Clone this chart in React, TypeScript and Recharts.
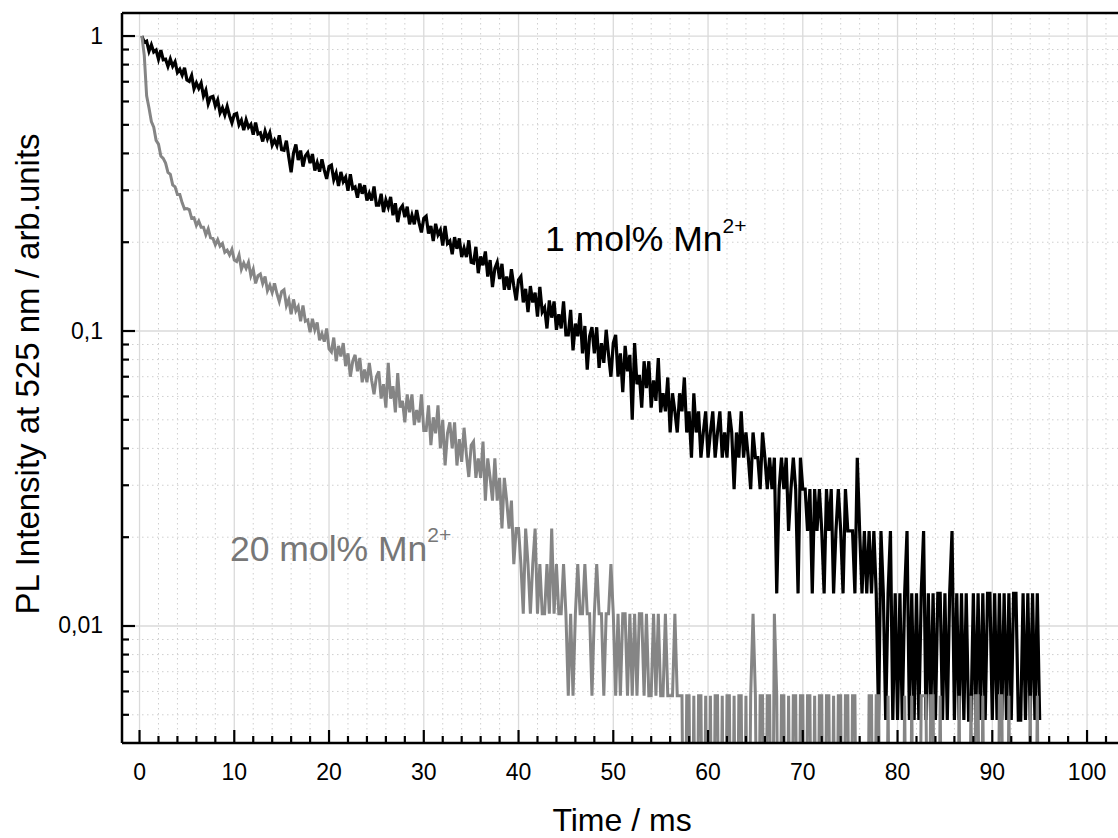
import React from 'react';
import { LineChart, Line, XAxis, YAxis, CartesianGrid, Customized, ReferenceLine } from 'recharts';

// Time axis (ms), 0.25 ms sampling
const time = [
  0.25, 0.5, 0.75, 1, 1.25, 1.5, 1.75, 2, 2.25, 2.5, 2.75, 3, 3.25, 3.5, 3.75, 4, 4.25, 4.5, 4.75, 5,
  5.25, 5.5, 5.75, 6, 6.25, 6.5, 6.75, 7, 7.25, 7.5, 7.75, 8, 8.25, 8.5, 8.75, 9, 9.25, 9.5, 9.75, 10,
  10.25, 10.5, 10.75, 11, 11.25, 11.5, 11.75, 12, 12.25, 12.5, 12.75, 13, 13.25, 13.5, 13.75, 14, 14.25, 14.5, 14.75, 15,
  15.25, 15.5, 15.75, 16, 16.25, 16.5, 16.75, 17, 17.25, 17.5, 17.75, 18, 18.25, 18.5, 18.75, 19, 19.25, 19.5, 19.75, 20,
  20.25, 20.5, 20.75, 21, 21.25, 21.5, 21.75, 22, 22.25, 22.5, 22.75, 23, 23.25, 23.5, 23.75, 24, 24.25, 24.5, 24.75, 25,
  25.25, 25.5, 25.75, 26, 26.25, 26.5, 26.75, 27, 27.25, 27.5, 27.75, 28, 28.25, 28.5, 28.75, 29, 29.25, 29.5, 29.75, 30,
  30.25, 30.5, 30.75, 31, 31.25, 31.5, 31.75, 32, 32.25, 32.5, 32.75, 33, 33.25, 33.5, 33.75, 34, 34.25, 34.5, 34.75, 35,
  35.25, 35.5, 35.75, 36, 36.25, 36.5, 36.75, 37, 37.25, 37.5, 37.75, 38, 38.25, 38.5, 38.75, 39, 39.25, 39.5, 39.75, 40,
  40.25, 40.5, 40.75, 41, 41.25, 41.5, 41.75, 42, 42.25, 42.5, 42.75, 43, 43.25, 43.5, 43.75, 44, 44.25, 44.5, 44.75, 45,
  45.25, 45.5, 45.75, 46, 46.25, 46.5, 46.75, 47, 47.25, 47.5, 47.75, 48, 48.25, 48.5, 48.75, 49, 49.25, 49.5, 49.75, 50,
  50.25, 50.5, 50.75, 51, 51.25, 51.5, 51.75, 52, 52.25, 52.5, 52.75, 53, 53.25, 53.5, 53.75, 54, 54.25, 54.5, 54.75, 55,
  55.25, 55.5, 55.75, 56, 56.25, 56.5, 56.75, 57, 57.25, 57.5, 57.75, 58, 58.25, 58.5, 58.75, 59, 59.25, 59.5, 59.75, 60,
  60.25, 60.5, 60.75, 61, 61.25, 61.5, 61.75, 62, 62.25, 62.5, 62.75, 63, 63.25, 63.5, 63.75, 64, 64.25, 64.5, 64.75, 65,
  65.25, 65.5, 65.75, 66, 66.25, 66.5, 66.75, 67, 67.25, 67.5, 67.75, 68, 68.25, 68.5, 68.75, 69, 69.25, 69.5, 69.75, 70,
  70.25, 70.5, 70.75, 71, 71.25, 71.5, 71.75, 72, 72.25, 72.5, 72.75, 73, 73.25, 73.5, 73.75, 74, 74.25, 74.5, 74.75, 75,
  75.25, 75.5, 75.75, 76, 76.25, 76.5, 76.75, 77, 77.25, 77.5, 77.75, 78, 78.25, 78.5, 78.75, 79, 79.25, 79.5, 79.75, 80,
  80.25, 80.5, 80.75, 81, 81.25, 81.5, 81.75, 82, 82.25, 82.5, 82.75, 83, 83.25, 83.5, 83.75, 84, 84.25, 84.5, 84.75, 85,
  85.25, 85.5, 85.75, 86, 86.25, 86.5, 86.75, 87, 87.25, 87.5, 87.75, 88, 88.25, 88.5, 88.75, 89, 89.25, 89.5, 89.75, 90,
  90.25, 90.5, 90.75, 91, 91.25, 91.5, 91.75, 92, 92.25, 92.5, 92.75, 93, 93.25, 93.5, 93.75, 94, 94.25, 94.5, 94.75, 95,
];

// 1 mol% Mn2+ (black)
const mn1 = [
  1.0, 0.952, 0.961, 0.888, 0.934, 0.883, 0.896, 0.835, 0.896, 0.831, 0.835, 0.789, 0.836, 0.79, 0.818, 0.752, 0.771, 0.737, 0.781, 0.71,
  0.702, 0.735, 0.663, 0.694, 0.665, 0.693, 0.626, 0.655, 0.589, 0.62, 0.624, 0.579, 0.607, 0.549, 0.571, 0.54, 0.577, 0.537, 0.508, 0.542,
  0.546, 0.5, 0.518, 0.48, 0.52, 0.49, 0.502, 0.463, 0.509, 0.466, 0.47, 0.439, 0.476, 0.448, 0.47, 0.427, 0.444, 0.425, 0.461, 0.412,
  0.41, 0.442, 0.389, 0.345, 0.401, 0.429, 0.38, 0.409, 0.361, 0.392, 0.402, 0.371, 0.398, 0.35, 0.372, 0.347, 0.382, 0.351, 0.328, 0.361,
  0.365, 0.326, 0.343, 0.31, 0.346, 0.321, 0.332, 0.299, 0.34, 0.304, 0.308, 0.283, 0.316, 0.292, 0.312, 0.277, 0.293, 0.277, 0.309, 0.267,
  0.267, 0.292, 0.253, 0.278, 0.263, 0.285, 0.247, 0.271, 0.234, 0.259, 0.266, 0.243, 0.264, 0.23, 0.247, 0.23, 0.257, 0.233, 0.216, 0.241,
  0.245, 0.214, 0.227, 0.202, 0.231, 0.212, 0.22, 0.195, 0.227, 0.198, 0.202, 0.182, 0.208, 0.19, 0.206, 0.178, 0.191, 0.178, 0.203, 0.171,
  0.17, 0.193, 0.157, 0.179, 0.167, 0.186, 0.153, 0.174, 0.141, 0.163, 0.171, 0.15, 0.169, 0.138, 0.153, 0.138, 0.162, 0.142, 0.127, 0.149,
  0.153, 0.125, 0.139, 0.116, 0.142, 0.125, 0.135, 0.112, 0.141, 0.116, 0.12, 0.102, 0.127, 0.111, 0.126, 0.101, 0.114, 0.102, 0.126, 0.097,
  0.097, 0.118, 0.086, 0.106, 0.096, 0.115, 0.084, 0.104, 0.074, 0.096, 0.103, 0.084, 0.103, 0.075, 0.091, 0.078, 0.101, 0.083, 0.07, 0.091,
  0.097, 0.07, 0.084, 0.062, 0.089, 0.073, 0.083, 0.05, 0.091, 0.066, 0.071, 0.055, 0.079, 0.064, 0.079, 0.055, 0.068, 0.058, 0.081, 0.053,
  0.0615, 0.0534, 0.0696, 0.0453, 0.0615, 0.0534, 0.0453, 0.0615, 0.0534, 0.0696, 0.0453, 0.0534, 0.0372, 0.0615, 0.0453, 0.0534, 0.0372, 0.0453, 0.0534, 0.0372,
  0.0453, 0.0534, 0.0372, 0.0453, 0.0534, 0.0372, 0.0453, 0.0372, 0.0534, 0.0453, 0.0291, 0.0453, 0.0372, 0.0534, 0.0372, 0.0453, 0.0372, 0.0291, 0.0453, 0.0372,
  0.0372, 0.0291, 0.0453, 0.0372, 0.0291, 0.0372, 0.0291, 0.0372, 0.0129, 0.0291, 0.0372, 0.0291, 0.0372, 0.021, 0.0291, 0.0372, 0.0291, 0.0129, 0.0372, 0.0291,
  0.0291, 0.021, 0.0291, 0.0129, 0.0291, 0.021, 0.0291, 0.021, 0.0129, 0.0291, 0.021, 0.0291, 0.0129, 0.021, 0.0291, 0.021, 0.0129, 0.0291, 0.021, 0.021,
  0.021, 0.0129, 0.0372, 0.021, 0.0129, 0.021, 0.0129, 0.021, 0.0129, 0.021, 0.0129, 0.0048, 0.021, 0.0129, 0.0048, 0.0129, 0.021, 0.0048, 0.0129, 0.0048,
  0.0129, 0.0048, 0.0129, 0.021, 0.0048, 0.0129, 0.0048, 0.0129, 0.0048, 0.0129, 0.021, 0.0048, 0.0129, 0.0048, 0.0129, 0.0048, 0.0129, 0.0129, 0.0048, 0.0129,
  0.0048, 0.0129, 0.021, 0.0048, 0.0129, 0.0048, 0.0129, 0.0048, 0.0129, 0.0048, 0.0048, 0.0129, 0.0048, 0.0129, 0.0048, 0.0129, 0.0048, 0.0129, 0.0129, 0.0048,
  0.0129, 0.0048, 0.0129, 0.0048, 0.0129, 0.0048, 0.0129, 0.0048, 0.0129, 0.0129, 0.0048, 0.0048, 0.0129, 0.0048, 0.0129, 0.0048, 0.0129, 0.0048, 0.0129, 0.0048,
];

// 20 mol% Mn2+ (grey)
const mn20 = [
  1.0, 0.86, 0.627, 0.57, 0.513, 0.491, 0.443, 0.43, 0.392, 0.385, 0.371, 0.345, 0.34, 0.313, 0.308, 0.29, 0.29, 0.272, 0.259, 0.26,
  0.258, 0.241, 0.242, 0.228, 0.236, 0.225, 0.225, 0.212, 0.222, 0.207, 0.206, 0.196, 0.204, 0.194, 0.198, 0.185, 0.188, 0.181, 0.189, 0.174,
  0.172, 0.181, 0.162, 0.17, 0.163, 0.171, 0.154, 0.162, 0.145, 0.154, 0.156, 0.145, 0.153, 0.137, 0.143, 0.135, 0.145, 0.134, 0.126, 0.136,
  0.138, 0.122, 0.128, 0.114, 0.128, 0.117, 0.121, 0.108, 0.122, 0.108, 0.109, 0.099, 0.11, 0.101, 0.107, 0.093, 0.098, 0.092, 0.102, 0.087,
  0.085, 0.095, 0.079, 0.089, 0.082, 0.091, 0.076, 0.084, 0.07, 0.079, 0.083, 0.073, 0.081, 0.067, 0.074, 0.067, 0.078, 0.068, 0.061, 0.07,
  0.073, 0.059, 0.066, 0.055, 0.078, 0.059, 0.065, 0.053, 0.072, 0.055, 0.058, 0.049, 0.061, 0.053, 0.061, 0.048, 0.054, 0.049, 0.061, 0.046,
  0.046, 0.056, 0.041, 0.051, 0.045, 0.056, 0.04, 0.05, 0.035, 0.045, 0.049, 0.04, 0.049, 0.035, 0.043, 0.036, 0.047, 0.038, 0.032, 0.041,
  0.0422, 0.0318, 0.037, 0.0318, 0.0422, 0.0266, 0.037, 0.0318, 0.0266, 0.037, 0.0266, 0.0318, 0.0214, 0.0318, 0.0266, 0.0214, 0.0266, 0.0162, 0.0214, 0.0214,
  0.0162, 0.011, 0.0214, 0.0162, 0.011, 0.0162, 0.0214, 0.011, 0.0162, 0.011, 0.011, 0.0162, 0.011, 0.0214, 0.011, 0.0162, 0.011, 0.011, 0.0162, 0.011,
  0.0058, 0.011, 0.0058, 0.011, 0.0162, 0.011, 0.011, 0.0162, 0.011, 0.011, 0.0058, 0.011, 0.0162, 0.011, 0.011, 0.0058, 0.011, 0.011, 0.0162, 0.011,
  0.0058, 0.011, 0.0058, 0.011, 0.011, 0.0058, 0.011, 0.0058, 0.011, 0.0058, 0.011, 0.011, 0.0058, 0.011, 0.0058, 0.0058, 0.011, 0.0058, 0.011, 0.0058,
  0.0058, 0.011, 0.0058, 0.0058, 0.0058, 0.011, 0.0058, 0.0058, 0.0058, 0.0006, 0.0058, 0.0058, 0.0006, 0.0058, 0.0006, 0.0058, 0.0058, 0.0006, 0.0058, 0.0006,
  0.0058, 0.0006, 0.0058, 0.0058, 0.0006, 0.0058, 0.0006, 0.0058, 0.0058, 0.0006, 0.0058, 0.0006, 0.0058, 0.0058, 0.0006, 0.0058, 0.0006, 0.0058, 0.011, 0.0058,
  0.0006, 0.0058, 0.0058, 0.0006, 0.0058, 0.0058, 0.0006, 0.011, 0.0058, 0.0006, 0.0058, 0.0058, 0.0006, 0.0058, 0.0006, 0.0058, 0.0058, 0.0006, 0.0058, 0.0058,
  0.0006, 0.0058, 0.0058, 0.0006, 0.0058, 0.0006, 0.0058, 0.0058, 0.0006, 0.0058, 0.0058, 0.0006, 0.0058, 0.0006, 0.0058, 0.0058, 0.0006, 0.0058, 0.0058, 0.0006,
  0.0058, 0.0058, 0.0006, 0.0006, 0.0006, 0.0006, 0.0006, 0.0058, 0.0058, 0.0006, 0.0058, 0.0058, 0.0006, 0.0006, 0.0006, 0.0058, 0.0006, 0.0006, 0.0006, 0.0006,
  0.0006, 0.0006, 0.0058, 0.0006, 0.0006, 0.0058, 0.0006, 0.0006, 0.0006, 0.0058, 0.0058, 0.0058, 0.0006, 0.0058, 0.0058, 0.0006, 0.0006, 0.0058, 0.0006, 0.0006,
  0.0006, 0.0006, 0.0006, 0.0006, 0.0006, 0.0058, 0.0006, 0.0006, 0.0006, 0.0006, 0.0058, 0.0006, 0.0058, 0.0058, 0.0006, 0.0058, 0.0006, 0.0006, 0.0006, 0.0006,
  0.0006, 0.0006, 0.0058, 0.0058, 0.0006, 0.0006, 0.0058, 0.0006, 0.0006, 0.0006, 0.0006, 0.0006, 0.0006, 0.0006, 0.0006, 0.0058, 0.0006, 0.0006, 0.0058, 0.0006,
];

const xTicks = [
  0, 2, 4, 6, 8, 10, 12, 14, 16, 18, 20, 22, 24, 26, 28, 30, 32, 34, 36, 38, 40,
  42, 44, 46, 48, 50, 52, 54, 56, 58, 60, 62, 64, 66, 68, 70, 72, 74, 76, 78, 80,
  82, 84, 86, 88, 90, 92, 94, 96, 98, 100, 102, 104,
];
const xMajor = [0, 10, 20, 30, 40, 50, 60, 70, 80, 90, 100];

const yTicks = [
  0.005, 0.006, 0.007, 0.008, 0.009,
  0.01, 0.02, 0.03, 0.04, 0.05, 0.06, 0.07, 0.08, 0.09,
  0.1, 0.2, 0.3, 0.4, 0.5, 0.6, 0.7, 0.8, 0.9,
  1,
];
const yMajor = [0.01, 0.1, 1];

// x range runs past the right edge of the picture, as in the reference
const xDomain: [number, number] = [-1.85, 110];
const yDomain: [number, number] = [0.004012, 1.197];

const FONT = '"Liberation Sans", Arial, Helvetica, sans-serif';

const data = time.map((t, i) => ({ t, mn1: mn1[i], mn20: mn20[i] }));
const xMinor = xTicks.filter((v) => !xMajor.includes(v));
const yMinor = yTicks.filter((v) => !yMajor.includes(v));

const Y_TICK_MARGIN = 19;

const XTick = (props: any) => {
  const { x, y, payload } = props;
  const v = payload.value;
  const major = xMajor.includes(v);
  return (
    <g>
      <line x1={x} x2={x} y1={y} y2={y - (major ? 13 : 7)} stroke="#000" strokeWidth={2.2} />
      {major && (
        <text x={x} y={y + 37} textAnchor="middle" fontSize={23} fill="#000" fontFamily={FONT}>
          {v}
        </text>
      )}
    </g>
  );
};

const YTick = (props: any) => {
  const { x, y, payload } = props;
  const v = payload.value;
  const major = yMajor.includes(v);
  const ax = x + Y_TICK_MARGIN;
  return (
    <g>
      <line x1={ax} x2={ax + (major ? 13 : 7)} y1={y} y2={y} stroke="#000" strokeWidth={2.2} />
      {major && (
        <text x={x} y={y + 7.5} textAnchor="end" fontSize={23} fill="#000" fontFamily={FONT}>
          {String(v).replace('.', ',')}
        </text>
      )}
    </g>
  );
};

const Texts = () => (
  <g fontFamily={FONT}>
    <text x={545} y={251} fontSize={35.5} fill="#000">
      1 mol% Mn<tspan dy={-18} fontSize={21}>2+</tspan>
    </text>
    <text x={230} y={561} fontSize={35.5} fill="#777">
      20 mol% Mn<tspan dy={-19} fontSize={21}>2+</tspan>
    </text>
    <text x={622} y={831} textAnchor="middle" fontSize={32} fill="#000">
      Time / ms
    </text>
    <text transform="translate(38.5,374) rotate(-90)" textAnchor="middle" fontSize={33} fill="#000">
      PL Intensity at 525 nm / arb.units
    </text>
  </g>
);

export default function App() {
  return (
    <div
      style={{
        position: 'fixed',
        left: 0,
        top: 0,
        width: 1118,
        height: 838,
        overflow: 'hidden',
        background: '#fff',
      }}
    >
      <LineChart
        width={1118}
        height={838}
        data={data}
        margin={{ top: 13, right: -63.8, left: 12, bottom: 0 }}
      >
        <CartesianGrid
          horizontalValues={yMinor}
          verticalValues={xMinor}
          syncWithTicks
          stroke="#cfcfcf"
          strokeDasharray="1.5 3.5"
          strokeWidth={1}
          fill="none"
        />
        <CartesianGrid
          horizontalValues={yMajor}
          verticalValues={xMajor}
          syncWithTicks
          stroke="#dadada"
          strokeWidth={1.3}
          fill="none"
        />
        <XAxis
          dataKey="t"
          type="number"
          domain={xDomain}
          allowDataOverflow
          ticks={xTicks}
          interval={0}
          tickSize={0}
          tickMargin={0}
          tickLine={false}
          tick={<XTick />}
          height={95}
          axisLine={{ stroke: '#000', strokeWidth: 2.5 }}
        />
        <YAxis
          type="number"
          scale="log"
          domain={yDomain}
          allowDataOverflow
          ticks={yTicks}
          interval={0}
          tickSize={0}
          tickMargin={Y_TICK_MARGIN}
          tickLine={false}
          tick={<YTick />}
          width={110}
          axisLine={{ stroke: '#000', strokeWidth: 2.5 }}
        />
        <ReferenceLine y={yDomain[1]} stroke="#000" strokeWidth={2.5} />
        <Line
          dataKey="mn1"
          type="linear"
          stroke="#000"
          strokeWidth={3.2}
          dot={false}
          isAnimationActive={false}
        />
        <Line
          dataKey="mn20"
          type="linear"
          stroke="#858585"
          strokeWidth={3}
          dot={false}
          isAnimationActive={false}
        />
        <Customized component={Texts} />
      </LineChart>
    </div>
  );
}
